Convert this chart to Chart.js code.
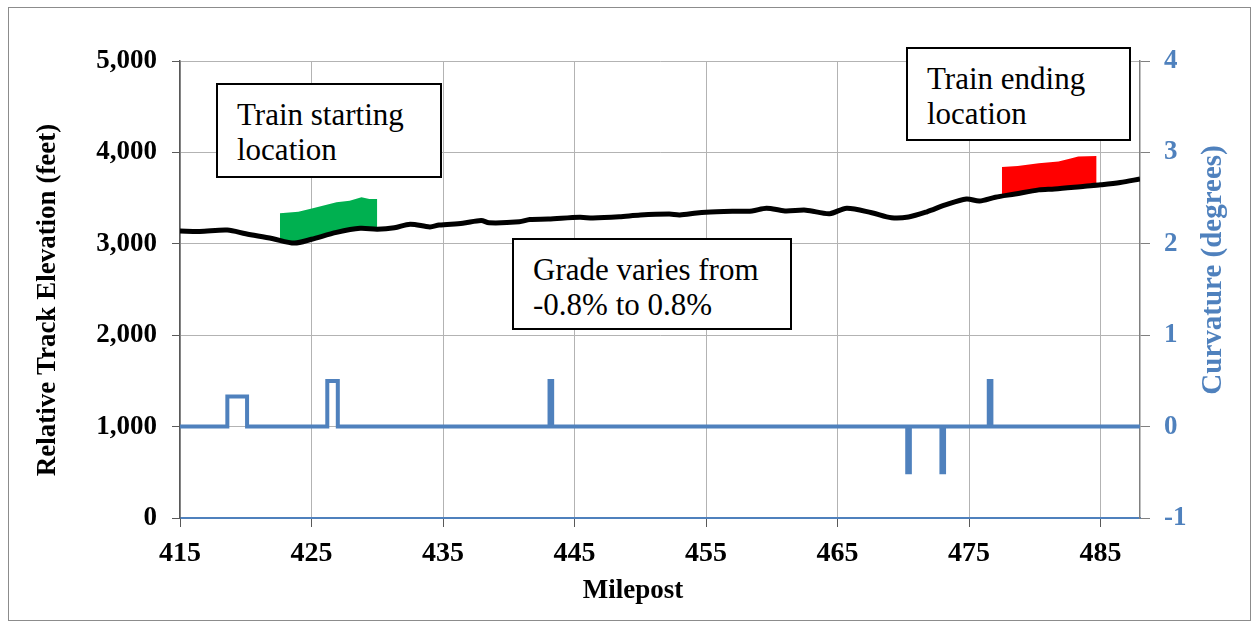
<!DOCTYPE html>
<html>
<head>
<meta charset="utf-8">
<script src="https://cdn.jsdelivr.net/npm/chart.js@4.4.1/dist/chart.umd.min.js"></script>
<style>
  body { margin: 0; background: #fff; }
  #wrap { position: relative; width: 1254px; height: 628px; overflow: hidden; }
  #frame { position: absolute; left: 8px; top: 7px; width: 1241px; height: 612px; border: 1px solid #8c8c8c; }
  #chart { position: absolute; left: 0; top: 0; }
  .note {
    position: absolute; box-sizing: border-box; border: 2px solid #000; background: #fff;
    font-family: "Liberation Serif", "Times New Roman", serif; font-size: 31px; line-height: 35px;
    color: #000; padding: 12px 0 0 19px; white-space: nowrap;
  }
</style>
</head>
<body>
<div id="wrap">
  <div id="frame"></div>
  <canvas id="chart" width="1254" height="628"></canvas>
  <div class="note" style="left:216px; top:83px; width:226px; height:95px;">Train starting<br>location</div>
  <div class="note" style="left:906px; top:47px; width:225px; height:94px;">Train ending<br>location</div>
  <div class="note" style="left:512px; top:238px; width:280px; height:92px;">Grade varies from<br>-0.8% to 0.8%</div>
</div>
<script>
// milepost ticks on the x axis
const xTicks = [415, 425, 435, 445, 455, 465, 475, 485];

// track elevation profile (feet)
const elevMiles = [415, 416.5, 418.6, 420, 422, 423.7, 425, 426.9, 428.7, 430, 431.3, 432.5, 434, 434.7,
  436.5, 437.9, 438.5, 440.8, 441.6, 443, 445.4, 446.4, 448.4, 450, 452.2, 453, 454.3, 455, 457, 458.5,
  459.6, 461, 462.6, 464.4, 465.7, 467.6, 469.1, 470.4, 471.8, 473.2, 474.8, 475.8, 477, 478.5, 480.3,
  481.5, 483.8, 485, 486.5, 488];
const elevFeet = [3140, 3135, 3150, 3110, 3058, 3008, 3050, 3125, 3170, 3160, 3175, 3215, 3185, 3205,
  3225, 3255, 3230, 3240, 3265, 3270, 3290, 3282, 3295, 3315, 3325, 3315, 3337, 3345, 3355, 3360,
  3390, 3360, 3368, 3330, 3390, 3340, 3285, 3293, 3350, 3425, 3490, 3468, 3510, 3545, 3590,
  3600, 3630, 3645, 3670, 3710];

// train start (green) and end (red) markers: top edge of band, filled down to the track
const startMiles = [422.6, 424, 425.1, 426.9, 427.9, 428.8, 429.4, 430];
const startTop = [3335, 3350, 3390, 3455, 3470, 3510, 3490, 3490];
const endMiles = [477.5, 478.7, 480.3, 481.8, 482.8, 483.3, 484.7];
const endTop = [3840, 3850, 3880, 3900, 3935, 3955, 3960];

// curvature (degrees)
const curveMiles = [415, 418.6, 418.6, 420.1, 420.1, 426.2, 426.2, 427.0, 427.0, 443.1, 443.1, 443.3, 443.3,
  470.3, 470.3, 470.5, 470.5, 472.9, 472.9, 473.1, 473.1, 476.5, 476.5, 476.7, 476.7, 488];
const curveDeg = [0, 0, 0.33, 0.33, 0, 0, 0.5, 0.5, 0, 0, 0.5, 0.5, 0,
  0, -0.5, -0.5, 0, 0, -0.5, -0.5, 0, 0, 0.5, 0.5, 0, 0];

const BLUE = '#4f81bd';
const FONT = '"Liberation Serif", "Times New Roman", serif';

function pts(xs, ys) {
  return xs.map((x, i) => ({x: x, y: ys[i]}));
}

const axisTitles = {
  id: 'axisTitles',
  afterDraw(chart) {
    const ctx = chart.ctx;
    ctx.save();
    ctx.textAlign = 'center';
    ctx.textBaseline = 'middle';
    ctx.fillStyle = '#000';
    ctx.font = 'bold 27px ' + FONT;
    ctx.fillText('Milepost', 633, 591);
    ctx.save();
    ctx.translate(48, 300);
    ctx.rotate(-Math.PI / 2);
    ctx.fillText('Relative Track Elevation (feet)', 0, 0);
    ctx.restore();
    ctx.translate(1214, 270);
    ctx.rotate(-Math.PI / 2);
    ctx.fillStyle = BLUE;
    ctx.font = 'bold 29px ' + FONT;
    ctx.fillText('Curvature (degrees)', 0, 0);
    ctx.restore();
  }
};

new Chart(document.getElementById('chart'), {
  type: 'line',
  data: {
    datasets: [
      {
        label: 'Elevation',
        data: pts(elevMiles, elevFeet),
        yAxisID: 'y',
        borderColor: '#000',
        borderWidth: 5,
        pointRadius: 0,
        tension: 0.3,
        fill: false,
        order: 0
      },
      {
        label: 'Start',
        data: pts(startMiles, startTop),
        yAxisID: 'y',
        borderColor: 'transparent',
        borderWidth: 1,
        backgroundColor: '#00b050',
        pointRadius: 0,
        fill: {target: 0},
        order: 2
      },
      {
        label: 'End',
        data: pts(endMiles, endTop),
        yAxisID: 'y',
        borderColor: 'transparent',
        borderWidth: 1,
        backgroundColor: '#ff0000',
        pointRadius: 0,
        fill: {target: 0},
        order: 2
      },
      {
        label: 'Curvature',
        data: pts(curveMiles, curveDeg),
        yAxisID: 'y1',
        borderColor: BLUE,
        borderWidth: 4,
        pointRadius: 0,
        tension: 0,
        fill: false,
        order: 1
      }
    ]
  },
  options: {
    responsive: false,
    animation: false,
    layout: { padding: { top: 61, left: 0, right: 0, bottom: 0 } },
    plugins: { legend: { display: false }, tooltip: { enabled: false } },
    scales: {
      x: {
        type: 'linear',
        min: 415,
        max: 488,
        afterBuildTicks: (scale) => { scale.ticks = xTicks.map(v => ({value: v})); },
        afterFit: (scale) => { scale.height = 110; },
        ticks: { color: '#000', font: { family: FONT, size: 28, weight: 'bold' }, padding: 10, maxRotation: 0 },
        grid: { color: '#b3b3b3', borderDash: [2, 2], tickColor: '#595959', tickBorderDash: [], tickLength: 9, lineWidth: 1 },
        border: { color: BLUE, width: 2 }
      },
      y: {
        position: 'left',
        min: 0,
        max: 5000,
        afterFit: (scale) => { scale.width = 180; },
        ticks: { stepSize: 1000, color: '#000', font: { family: FONT, size: 27, weight: 'bold' }, padding: 15 },
        grid: {
          color: (c) => c.tick && c.tick.value === 0 ? 'transparent' : '#b3b3b3',
          borderDash: [2, 2], tickColor: '#595959', tickBorderDash: [], tickLength: 8
        },
        border: { color: '#595959', width: 1.5 }
      },
      y1: {
        position: 'right',
        min: -1,
        max: 4,
        afterFit: (scale) => { scale.width = 114; },
        ticks: { stepSize: 1, color: BLUE, font: { family: FONT, size: 27, weight: 'bold' }, padding: 14 },
        grid: { drawOnChartArea: false, tickColor: '#808080', tickLength: 10 },
        border: { color: '#808080', width: 1.5 }
      }
    }
  },
  plugins: [axisTitles]
});
</script>
</body>
</html>
